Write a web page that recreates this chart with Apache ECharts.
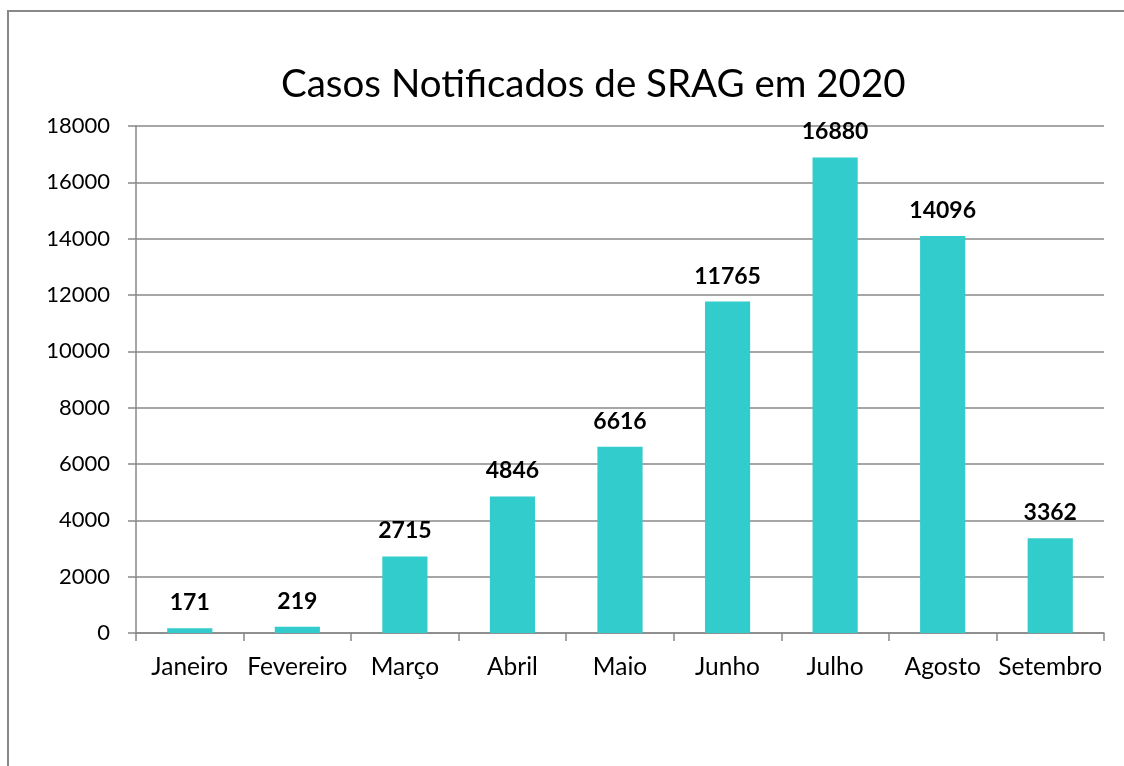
<!DOCTYPE html>
<html>
<head>
<meta charset="utf-8">
<script src="https://cdn.jsdelivr.net/npm/echarts@6/dist/echarts.min.js"></script>
<style>
  html, body { margin: 0; padding: 0; background: #fff; }
  #chart { width: 1124px; height: 766px; }
</style>
</head>
<body>
<div id="chart"></div>
<script>
// Casos notificados de SRAG por mes
const months = ['Janeiro', 'Fevereiro', 'Março', 'Abril', 'Maio', 'Junho', 'Julho', 'Agosto', 'Setembro'];
const cases = [171, 219, 2715, 4846, 6616, 11765, 16880, 14096, 3362];
const yTicks = { min: 0, max: 18000, interval: 2000 };

const chart = echarts.init(document.getElementById('chart'));
const fontFamily = 'Lato, "Open Sans", sans-serif';

chart.setOption({
  animation: false,
  textStyle: { fontFamily: fontFamily },
  graphic: [
    {
      type: 'rect',
      shape: { x: 8, y: 11, width: 1130, height: 780 },
      style: { fill: 'none', stroke: '#898989', lineWidth: 2 },
      silent: true
    }
  ],
  title: {
    text: 'Casos Notificados de SRAG em 2020',
    left: 276,
    top: 60,
    textStyle: { fontFamily: fontFamily, fontSize: 38.5, fontWeight: 'normal', color: '#000' }
  },
  grid: { left: 136, right: 20, top: 126, bottom: 133, containLabel: false },
  xAxis: {
    type: 'category',
    data: months,
    axisLine: { lineStyle: { color: '#888', width: 1.5 } },
    axisTick: { show: true, alignWithLabel: false, length: 8, lineStyle: { color: '#888', width: 1.5 } },
    axisLabel: { color: '#000', fontSize: 24.5, margin: 22, interval: 0, fontFamily: fontFamily }
  },
  yAxis: {
    type: 'value',
    min: yTicks.min,
    max: yTicks.max,
    interval: yTicks.interval,
    axisLine: { show: true, lineStyle: { color: '#888', width: 1.5 } },
    axisTick: { show: true, length: 8, lineStyle: { color: '#888', width: 1.5 } },
    axisLabel: {
      color: '#000',
      fontSize: 22,
      margin: 26,
      fontFamily: fontFamily,
      formatter: (v) => String(v)
    },
    splitLine: { lineStyle: { color: '#888', width: 1.5 } }
  },
  series: [
    {
      type: 'bar',
      data: cases,
      barWidth: '42%',
      itemStyle: { color: '#33CCCC' },
      label: {
        show: true,
        position: 'top',
        distance: 14,
        color: '#000',
        fontSize: 23,
        fontWeight: 'bold',
        fontFamily: fontFamily
      }
    }
  ]
});
</script>
</body>
</html>
